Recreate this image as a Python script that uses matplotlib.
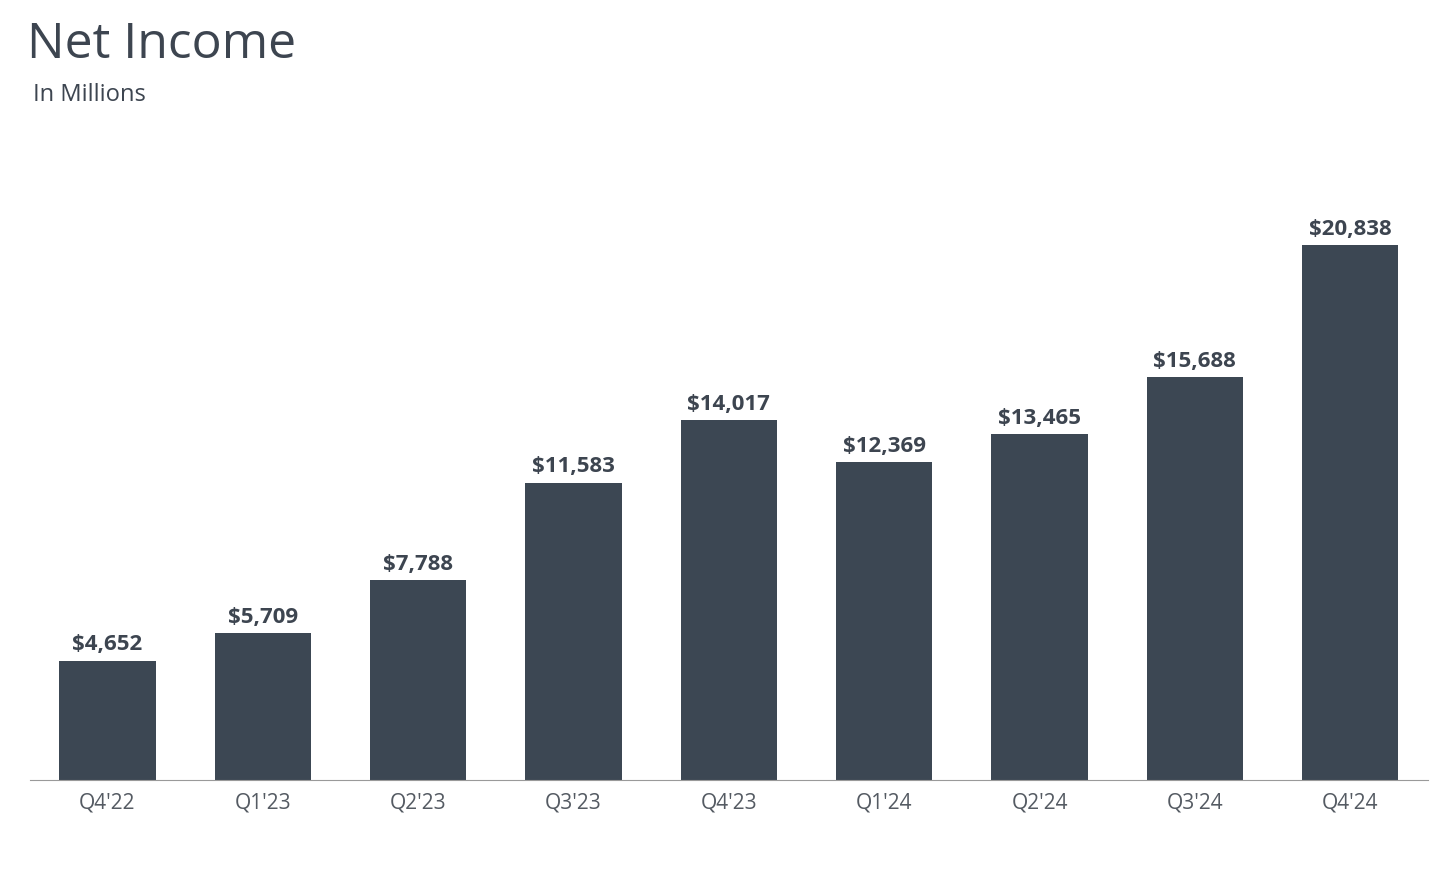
import matplotlib.pyplot as plt

quarters = ["Q4'22", "Q1'23", "Q2'23", "Q3'23", "Q4'23", "Q1'24", "Q2'24", "Q3'24", "Q4'24"]
net_income = [4652, 5709, 7788, 11583, 14017, 12369, 13465, 15688, 20838]

BAR = "#3c4753"
TXT = "#3d4550"

plt.rcParams["font.family"] = "Open Sans"
fig = plt.figure(figsize=(14.4, 8.78), dpi=100)
ax = fig.add_axes([0.0206, 0.1105, 0.971, 0.7415])

x = range(len(quarters))
ax.bar(x, net_income, width=0.62, color=BAR)
for i, v in zip(x, net_income):
    ax.text(i, v + 250, f"${v:,}", ha="center", va="bottom",
            fontsize=16, fontweight="bold", color=TXT)

ax.set_xlim(-0.5, len(quarters) - 0.5)
ax.set_ylim(0, 25356)
ax.set_xticks(list(x))
ax.set_xticklabels(quarters, fontsize=15, color="#555b63")
ax.tick_params(axis="x", length=0, pad=8)
ax.set_yticks([])
for s in ["top", "right", "left"]:
    ax.spines[s].set_visible(False)
ax.spines["bottom"].set_color("#9a9a9a")

fig.text(0.019, 0.948, "Net Income", fontsize=36, color=TXT, va="center")
fig.text(0.023, 0.892, "In Millions", fontsize=17, color=TXT, va="center")

fig.savefig("out.png", dpi=100)
